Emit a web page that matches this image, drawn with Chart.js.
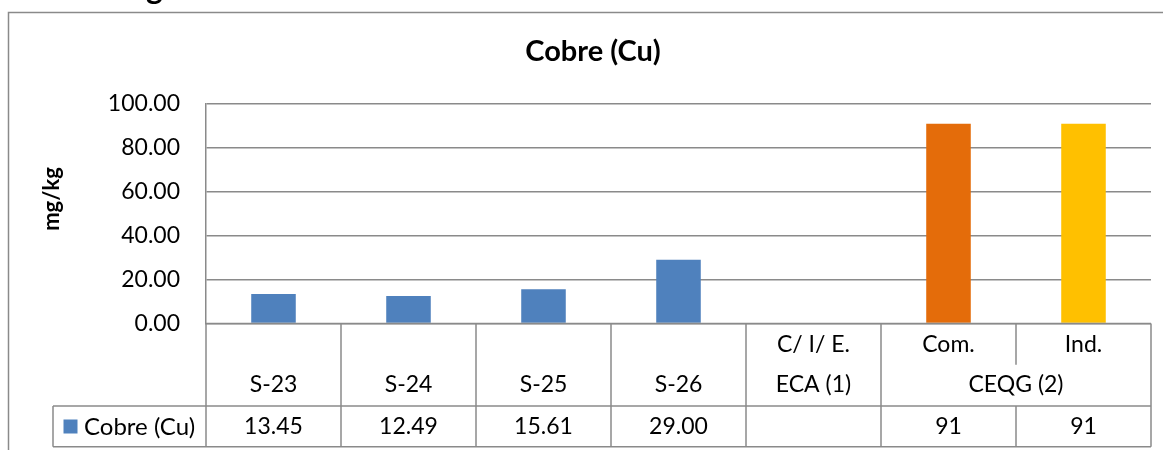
<!DOCTYPE html>
<html>
<head>
<meta charset="utf-8">
<script src="https://cdn.jsdelivr.net/npm/chart.js@4/dist/chart.umd.min.js"></script>
<style>
  html, body { margin: 0; padding: 0; background: #ffffff; }
  #wrap { width: 1163px; height: 450px; }
</style>
</head>
<body>
<div id="wrap"><canvas id="c" width="1163" height="450"></canvas></div>
<script>
// ---- data ----
const seriesName = 'Cobre (Cu)';
const innerLabels = ['', '', '', '', 'C/ I/ E.', 'Com.', 'Ind.'];
const outerLabels = ['S-23', 'S-24', 'S-25', 'S-26', 'ECA (1)', 'CEQG (2)'];
const outerSpans = [1, 1, 1, 1, 1, 2];
const values = [13.45, 12.49, 15.61, 29.00, null, 91, 91];
const tableText = ['13.45', '12.49', '15.61', '29.00', '', '91', '91'];
const barColors = ['#4F81BD', '#4F81BD', '#4F81BD', '#4F81BD', '#4F81BD', '#E46C0A', '#FFC000'];
const yMin = 0, yMax = 100, yStep = 20;
const chartTitle = 'Cobre (Cu)';
const yTitle = 'mg/kg';

// ---- styling ----
const FONT = 'Lato, "Open Sans", sans-serif';
const LINE = '#8a8a8a';
const TEXT_SIZE = 23;
const LABEL_ROW_H = 82.5;   // height of the two-level category row
const DATA_ROW_H = 40.7;    // height of the value row
const LEGEND_LEFT = 53;

// full category names for the x scale
const categories = [];
{
  let k = 0;
  outerLabels.forEach((o, g) => {
    for (let j = 0; j < outerSpans[g]; j++, k++) {
      categories.push(innerLabels[k] ? [innerLabels[k], o] : o);
    }
  });
}

// frame round the chart (open to the right / bottom of the view)
const framePlugin = {
  id: 'frame',
  beforeDraw(chart) {
    const ctx = chart.ctx;
    ctx.save();
    ctx.fillStyle = '#ffffff';
    ctx.fillRect(0, 0, chart.width, chart.height);
    // heading text above the chart, mostly out of view
    ctx.fillStyle = '#000000';
    ctx.font = 'bold 32px ' + FONT;
    ctx.textBaseline = 'alphabetic';
    ctx.textAlign = 'left';
    ctx.fillText('g', 146, -1);
    ctx.strokeStyle = LINE;
    ctx.lineWidth = 1.5;
    ctx.beginPath();
    ctx.moveTo(8.5, chart.height + 5);
    ctx.lineTo(8.5, 12.5);
    ctx.lineTo(chart.width + 5, 12.5);
    ctx.stroke();
    ctx.restore();
  }
};

// title, axis title and the data table under the plot
const tablePlugin = {
  id: 'dataTable',
  afterDraw(chart) {
    const ctx = chart.ctx;
    const a = chart.chartArea;
    const x = chart.scales.x;
    const n = values.length;
    const step = (x.right - x.left) / n;
    const edge = i => x.getPixelForValue(i) - step / 2;
    const center = i => x.getPixelForValue(i);

    const top = a.bottom;
    const mid = top + LABEL_ROW_H / 2;
    const rowTop = top + LABEL_ROW_H;
    const rowBot = rowTop + DATA_ROW_H;

    ctx.save();
    ctx.strokeStyle = LINE;
    ctx.lineWidth = 1.5;
    const line = (x1, y1, x2, y2) => {
      ctx.beginPath(); ctx.moveTo(x1, y1); ctx.lineTo(x2, y2); ctx.stroke();
    };

    // horizontal rules
    line(edge(0), top, edge(n), top);
    line(LEGEND_LEFT, rowTop, edge(n), rowTop);
    line(LEGEND_LEFT, rowBot, edge(n), rowBot);

    // vertical rules
    line(LEGEND_LEFT, rowTop, LEGEND_LEFT, rowBot);
    line(edge(0), top, edge(0), rowBot);
    line(edge(n), top, edge(n), rowBot);
    const groupStarts = new Set();
    {
      let k = 0;
      outerSpans.forEach(s => { groupStarts.add(k); k += s; });
    }
    for (let i = 1; i < n; i++) {
      const xe = edge(i);
      if (groupStarts.has(i)) {
        line(xe, top, xe, rowBot);
      } else {
        line(xe, top, xe, mid);
        line(xe, rowTop, xe, rowBot);
      }
    }

    // texts
    ctx.fillStyle = '#000000';
    ctx.font = TEXT_SIZE + 'px ' + FONT;
    ctx.textAlign = 'center';
    ctx.textBaseline = 'middle';
    innerLabels.forEach((t, i) => { if (t) ctx.fillText(t, center(i), top + 21.5); });
    {
      let k = 0;
      outerLabels.forEach((t, g) => {
        const c = (edge(k) + edge(k + outerSpans[g])) / 2;
        ctx.fillText(t, c, top + 61.5);
        k += outerSpans[g];
      });
    }
    tableText.forEach((t, i) => { if (t) ctx.fillText(t, center(i), rowTop + 21); });

    // legend key in the value row
    ctx.fillStyle = barColors[0];
    ctx.fillRect(63.5, rowTop + 13.5, 14, 14);
    ctx.fillStyle = '#000000';
    ctx.textAlign = 'left';
    ctx.font = '24px ' + FONT;
    ctx.fillText(seriesName, 84, rowTop + 21);

    // chart title
    ctx.font = 'bold 29px ' + FONT;
    ctx.textAlign = 'center';
    ctx.fillText(chartTitle, 593, 52);

    // y axis title
    ctx.translate(52, 199);
    ctx.rotate(-Math.PI / 2);
    ctx.font = 'bold 22px ' + FONT;
    ctx.fillText(yTitle, 0, 0);
    ctx.restore();
  }
};

new Chart(document.getElementById('c'), {
  type: 'bar',
  data: {
    labels: categories,
    datasets: [{
      label: seriesName,
      data: values,
      backgroundColor: barColors,
      borderWidth: 0,
      categoryPercentage: 1,
      barPercentage: 0.33
    }]
  },
  options: {
    responsive: false,
    animation: false,
    devicePixelRatio: 1,
    layout: { padding: { top: 104, right: 12, left: 0, bottom: 0 } },
    plugins: {
      legend: { display: false },
      title: { display: false },
      tooltip: { enabled: false }
    },
    scales: {
      x: {
        grid: { display: false },
        border: { display: false },
        ticks: { display: false },
        afterFit(scale) { scale.height = 126.5; }
      },
      y: {
        min: yMin,
        max: yMax,
        ticks: {
          stepSize: yStep,
          padding: 26,
          color: '#000000',
          font: { family: FONT, size: TEXT_SIZE },
          callback: v => Number(v).toFixed(2)
        },
        grid: { color: LINE, lineWidth: 1.5, drawTicks: false },
        border: { display: true, color: LINE, width: 1.5 },
        afterFit(scale) { scale.width = 206; }
      }
    }
  },
  plugins: [framePlugin, tablePlugin]
});
</script>
</body>
</html>
